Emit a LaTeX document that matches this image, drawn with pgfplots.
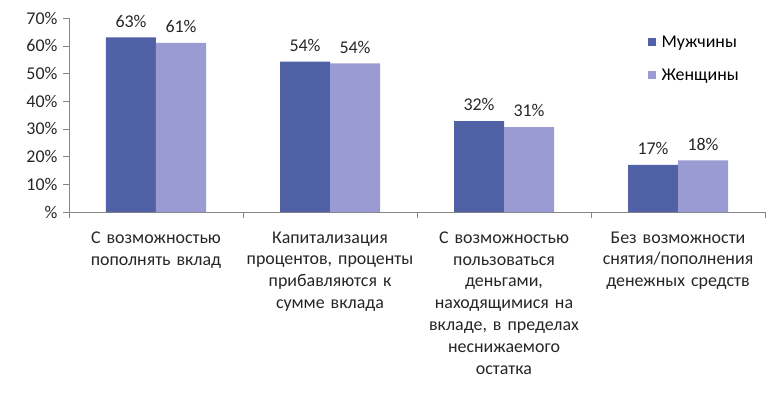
\documentclass[border=0pt]{standalone}
\usepackage{fontspec}
\setmainfont{Carlito}
\usepackage{pgfplots}
\pgfplotsset{compat=1.18}
\definecolor{mblue}{RGB}{80,98,165}
\definecolor{wlav}{RGB}{155,155,212}
\definecolor{axgray}{RGB}{134,134,134}
\begin{document}
\begin{tikzpicture}
\useasboundingbox (-69bp,-186bp) rectangle (711bp,212bp);
\begin{axis}[
  at={(0,0)}, anchor=south west,
  scale only axis, width=696bp, height=194bp,
  ybar=0pt, bar width=50bp,
  xmin=-0.5, xmax=3.5, ymin=0, ymax=70,
  axis x line=bottom, axis y line=left,
  axis line style={-, draw=axgray},
  tick align=outside,
  xtick={0,1,2,3},
  major x tick style={draw=none},
  minor xtick={-0.5,0.5,1.5,2.5,3.5},
  minor x tick style={draw=axgray},
  minor tick length=6bp,
  ytick={0,10,...,70},
  major y tick style={draw=axgray},
  major tick length=6bp,
  yticklabels={\%,10\%,20\%,30\%,40\%,50\%,60\%,70\%},
  yticklabel style={font=\fontsize{18}{20}\selectfont, text=black!85, xshift=-2bp},
  xticklabels={{С возможностью\\пополнять вклад},{Капитализация\\процентов, проценты\\прибавляются к\\сумме вклада},{С возможностью\\пользоваться\\деньгами,\\находящимися на\\вкладе, в пределах\\неснижаемого\\остатка},{Без возможности\\снятия/пополнения\\денежных средств}},
  xticklabel style={text width=172bp, align=center, font=\fontsize{18}{22}\selectfont, text=black!85, yshift=-10bp},
  point meta=explicit symbolic,
  nodes near coords,
  nodes near coords style={font=\fontsize{18}{20}\selectfont, text=black!85, inner sep=3bp, yshift=7bp},
  legend style={at={(0.831,0.92)}, anchor=north west, draw=none, fill=none,
    font=\fontsize{18}{20}\selectfont, row sep=16bp, inner sep=0pt},
  legend cell align=left,
  legend image code/.code={\path[#1,draw=none] (0bp,-4bp) rectangle (8bp,4bp);},
  legend style={nodes={inner xsep=6bp}},
]
\addplot[fill=mblue, draw=none]
  coordinates {(0,63)[63\%] (1,54.3)[54\%] (2,32.8)[32\%] (3,17)[17\%]};
\addplot[fill=wlav, draw=none]
  coordinates {(0,61)[61\%] (1,53.6)[54\%] (2,30.6)[31\%] (3,18.6)[18\%]};
\legend{Мужчины, Женщины}
\end{axis}
\end{tikzpicture}
\end{document}
